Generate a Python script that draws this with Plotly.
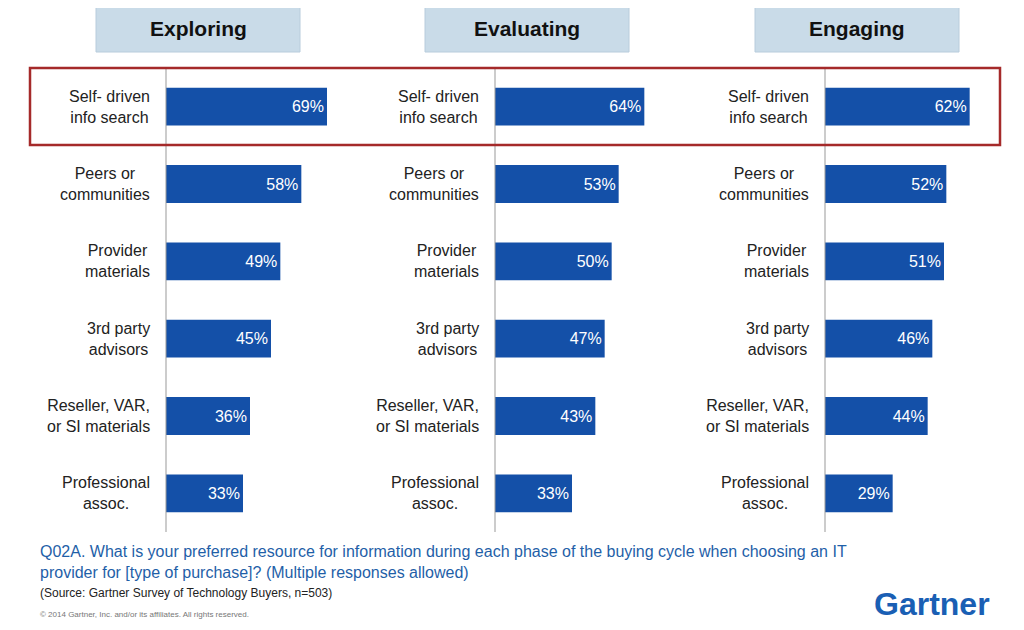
import plotly.graph_objects as go

phases = ["Exploring", "Evaluating", "Engaging"]
categories = ["Self- driven<br>info search", "Peers or<br>communities", "Provider<br>materials",
              "3rd party<br>advisors", "Reseller, VAR,<br>or SI materials", "Professional<br>assoc."]
exploring = [69, 58, 49, 45, 36, 33]
evaluating = [64, 53, 50, 47, 43, 33]
engaging = [62, 52, 51, 46, 44, 29]
series = [exploring, evaluating, engaging]

W, H = 1024, 630
OFF = 8  # page body margin
def px(x): return (x - OFF) / W
def py(y): return 1 - (y - OFF) / H

axis_px = [166, 495, 825]
span_px = 168
top_px, bot_px = 68, 532
BLUE = "#1450a8"
FONT = "Liberation Sans, Arial, sans-serif"

fig = go.Figure()
layout = dict(width=W, height=H, margin=dict(l=0, r=0, t=0, b=0),
              paper_bgcolor="white", plot_bgcolor="rgba(0,0,0,0)",
              showlegend=False, font=dict(family=FONT))
annotations, shapes = [], []
for i, (ph, vals) in enumerate(zip(phases, series)):
    ax = "" if i == 0 else str(i + 1)
    fig.add_trace(go.Bar(x=vals, y=list(range(6)), orientation="h",
                         xaxis="x" + ax, yaxis="y" + ax, width=0.49,
                         marker=dict(color=BLUE, line=dict(width=0)),
                         text=[f"{v}%" for v in vals], textposition="inside",
                         insidetextanchor="end",
                         textfont=dict(color="white", size=16, family=FONT),
                         hoverinfo="skip"))
    x0 = px(axis_px[i])
    x1 = px(axis_px[i] + span_px)
    layout["xaxis" + ax] = dict(domain=[x0, x1], range=[0, 72], visible=False,
                                anchor="y" + ax, fixedrange=True)
    layout["yaxis" + ax] = dict(domain=[py(bot_px), py(top_px)], range=[5.5, -0.5],
                                visible=False, anchor="x" + ax, fixedrange=True)
    for j, c in enumerate(categories):
        annotations.append(dict(x=0, y=j, xref="x" + ax, yref="y" + ax, text=c,
                                showarrow=False, xanchor="right", yanchor="middle", xshift=-14,
                                align="center", font=dict(size=16, color="#222", family=FONT)))
    shapes.append(dict(type="line", xref="paper", yref="paper", x0=x0, x1=x0,
                       y0=py(bot_px), y1=py(top_px),
                       line=dict(color="#999", width=1)))
    hx0 = axis_px[i] - 70
    shapes.append(dict(type="rect", xref="paper", yref="paper",
                       x0=px(hx0), x1=px(hx0 + 204), y0=py(52), y1=py(5),
                       fillcolor="#c9dbe8", line=dict(color="#b8ccdc", width=1), layer="below"))
    annotations.append(dict(x=px(hx0 + 102), y=py(28.5), xref="paper", yref="paper",
                            xanchor="center", yanchor="middle",
                            text=f"<b>{ph}</b>", showarrow=False,
                            font=dict(size=21, color="#111", family=FONT)))

shapes.append(dict(type="rect", xref="paper", yref="paper", x0=px(30), x1=px(1000),
                   y0=py(145), y1=py(68), line=dict(color="#a52a2a", width=2.5)))

annotations += [
    dict(x=px(38), y=py(562), xref="paper", yref="paper", xanchor="left", yanchor="middle",
         align="left", showarrow=False,
         text="Q02A. What is your preferred resource for information during each phase of the buying cycle when choosing an IT<br>provider for [type of purchase]? (Multiple responses allowed)",
         font=dict(size=16, color="#1f5fa8", family=FONT)),
    dict(x=px(38), y=py(593), xref="paper", yref="paper", xanchor="left", yanchor="middle",
         showarrow=False, text="(Source: Gartner Survey of Technology Buyers, n=503)",
         font=dict(size=12, color="#222", family=FONT)),
    dict(x=px(38), y=py(614), xref="paper", yref="paper", xanchor="left", yanchor="middle",
         showarrow=False,
         text="© 2014 Gartner, Inc. and/or its affiliates. All rights reserved.",
         font=dict(size=8, color="#777", family=FONT)),
    dict(x=px(992), y=py(604), xref="paper", yref="paper", xanchor="right", yanchor="middle",
         showarrow=False, text="<b>Gartner</b>",
         font=dict(size=32, color="#1a5fb4", family=FONT)),
]
layout["annotations"] = annotations
layout["shapes"] = shapes
fig.update_layout(**layout)
fig.write_html("out.html")
